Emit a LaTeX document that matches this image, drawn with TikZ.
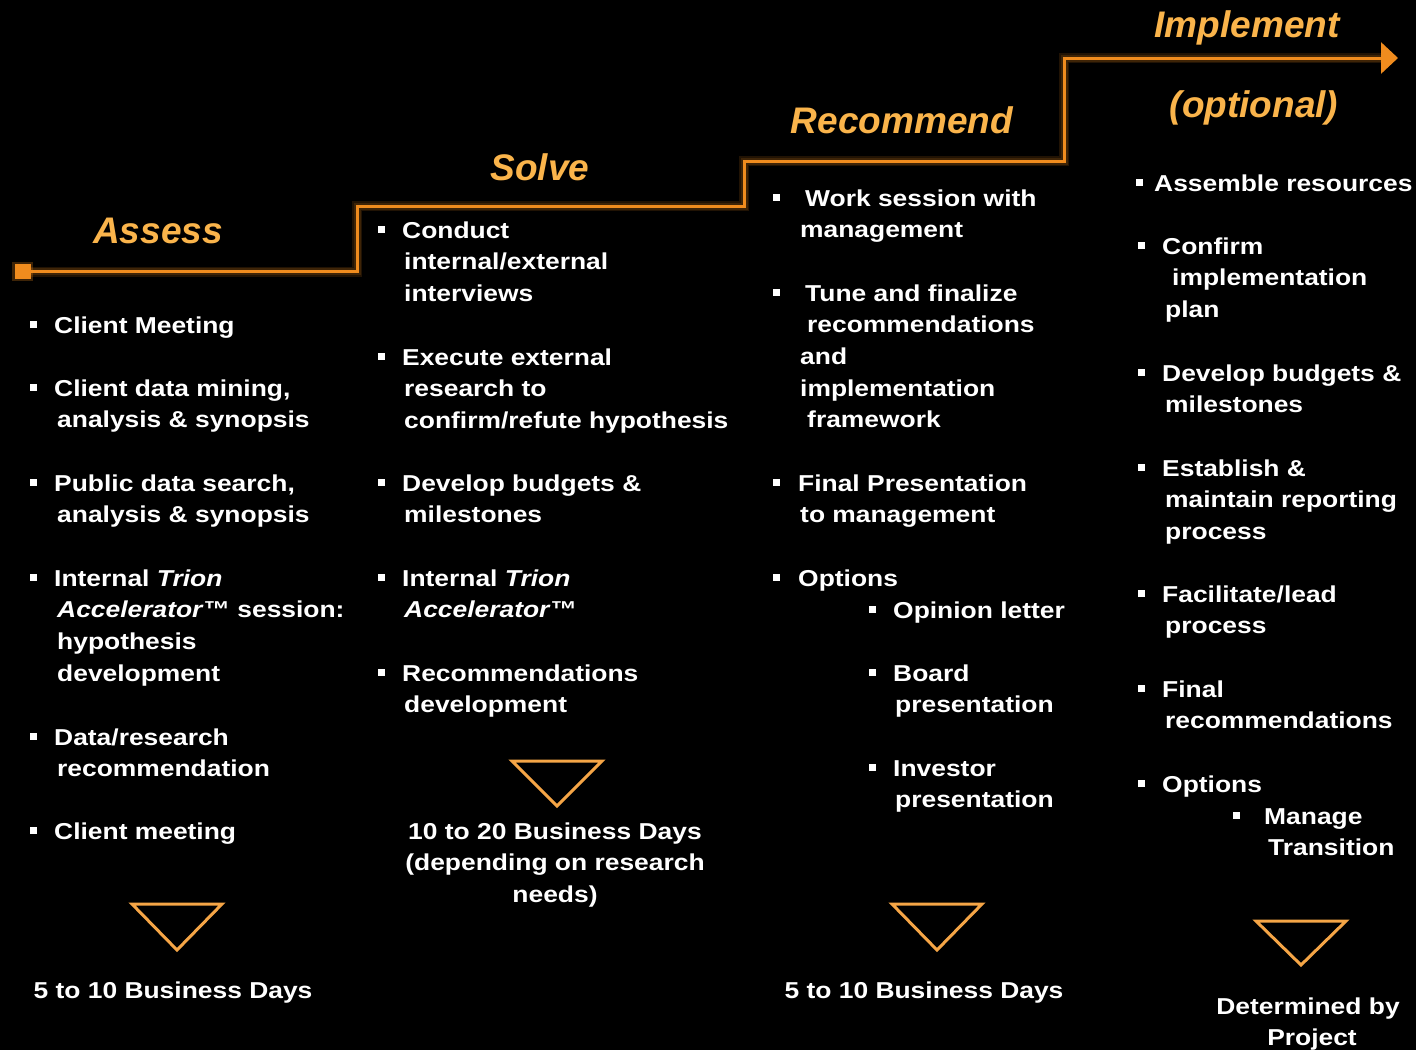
\documentclass[tikz,border=0pt]{standalone}
\usepackage{fontspec}
\setmainfont{Liberation Sans}[FakeStretch=1.148]
\newfontfamily\headfont{Liberation Sans}
\usetikzlibrary{arrows.meta}
\definecolor{stair}{RGB}{240,140,30}
\definecolor{headc}{RGB}{250,180,75}
\definecolor{tric}{RGB}{245,165,70}
\newcommand\bodyfont{\fontsize{23}{31.7}\selectfont\bfseries}
\newcommand\ind[1]{\hspace*{#1pt}}
\newcommand\itm[5]{%
  \fill[white] (#2-3.5,#4-4.5) rectangle (#2+3.5,#4+2.5);
  \node[txt] (#1) at (#3,#4+8) {\begin{tabular}[t]{@{}l@{}}#5\end{tabular}};}
\newcommand\tri[3]{%
  \draw[trist] (#1-45,#2) -- (#1+45,#2) -- (#1,#2+#3) -- cycle;}
\begin{document}
\begin{tikzpicture}[x=1pt,y=-1pt,
  txt/.style={text=white,font=\bodyfont,inner sep=0pt,anchor=base west},
  bot/.style={text=white,font=\bodyfont,inner sep=0pt,anchor=base},
  headtxt/.style={text=headc,font=\headfont\fontsize{37}{44}\selectfont\bfseries\itshape,inner sep=0pt,anchor=base},
  trist/.style={draw=tric,line width=3pt,line join=miter},
  stairline/.style={draw=stair,line width=3pt},
  glow/.style={draw=stair,line width=#1,opacity=0.14}]
\useasboundingbox (0,0) rectangle (1416,1050);
\fill[black] (0,0) rectangle (1416,1050);

% staircase
\node[fill=stair,minimum width=16pt,minimum height=15pt,inner sep=0pt,draw=none] (sq) at (22.5,271.5) {};
\coordinate (c1) at (357,206);
\coordinate (c2) at (744,161);
\coordinate (c3) at (1064,58);
\coordinate (tip) at (1398,58);
\foreach \w in {10pt,7pt}{
  \draw[glow=\w] (sq.center) -| (c1) -| (c2) -| (c3) -- ([xshift=-8pt]tip);
  \fill[stair,opacity=0.14] (sq.south west) ++(-2,2) rectangle ([shift={(2,-2)}]sq.north east);}
\draw[stairline,-{Triangle[length=17pt,width=31pt]}] (sq.center) -| (c1) -| (c2) -| (c3) -- (tip);

% headings
\node[headtxt] (hA) at (158,243) {Assess};
\node[headtxt] (hS) at (540,180) {Solve};
\node[headtxt] (hR) at (902,133) {Recommend};
\node[headtxt] (hI) at (1247,37) {Implement};
\node[headtxt] (hO) at (1254,117) {(optional)};

% column 1
\itm{a1}{33}{54}{325}{Client Meeting}
\itm{a2}{33}{54}{388}{Client data mining,\\ \ind{3}analysis \& synopsis}
\itm{a3}{33}{54}{483}{Public data search,\\ \ind{3}analysis \& synopsis}
\itm{a4}{33}{54}{578}{Internal \textit{Trion}\\ \ind{3}\textit{Accelerator}™ session:\\ \ind{3}hypothesis\\ \ind{3}development}
\itm{a5}{33}{54}{737}{Data/research\\ \ind{3}recommendation}
\itm{a6}{33}{54}{831}{Client meeting}
\tri{177}{904}{46}
\node[bot] (aB) at (173,998) {5 to 10 Business Days};

% column 2
\itm{s1}{381}{402}{230}{Conduct\\ \ind{2}internal/external\\ \ind{2}interviews}
\itm{s2}{381}{402}{357}{Execute external\\ \ind{2}research to\\ \ind{2}confirm/refute hypothesis}
\itm{s3}{381}{402}{483}{Develop budgets \&\\ \ind{2}milestones}
\itm{s4}{381}{402}{578}{Internal \textit{Trion}\\ \ind{2}\textit{Accelerator}™}
\itm{s5}{381}{402}{673}{Recommendations\\ \ind{2}development}
\tri{557}{761}{45}
\node[bot] (sB) at (555,839) {\begin{tabular}[t]{@{}c@{}}10 to 20 Business Days\\(depending on research\\needs)\end{tabular}};

% column 3
\itm{r1}{776}{800}{198}{\ind{5}Work session with\\ management}
\itm{r2}{776}{800}{293}{\ind{5}Tune and finalize\\ \ind{7}recommendations\\ and\\ implementation\\ \ind{7}framework}
\itm{r3}{776}{798}{483}{Final Presentation\\ \ind{2}to management}
\itm{r4}{776}{798}{578}{Options}
\itm{r5}{872}{893}{610}{Opinion letter}
\itm{r6}{872}{893}{673}{Board\\ \ind{2}presentation}
\itm{r7}{872}{893}{768}{Investor\\ \ind{2}presentation}
\tri{937}{904}{46}
\node[bot] (rB) at (924,998) {5 to 10 Business Days};

% column 4
\itm{i1}{1139}{1154}{183}{Assemble resources}
\itm{i2}{1141}{1162}{246}{Confirm\\ \ind{10}implementation\\ \ind{3}plan}
\itm{i3}{1141}{1162}{373}{Develop budgets \&\\ \ind{3}milestones}
\itm{i4}{1141}{1162}{468}{Establish \&\\ \ind{3}maintain reporting\\ \ind{3}process}
\itm{i5}{1141}{1162}{594}{Facilitate/lead\\ \ind{3}process}
\itm{i6}{1141}{1162}{689}{Final\\ \ind{3}recommendations}
\itm{i7}{1141}{1162}{784}{Options}
\itm{i8}{1236}{1264}{816}{Manage\\ \ind{4}Transition}
\tri{1301}{921}{44}
\node[bot] (iB) at (1308,1014) {\begin{tabular}[t]{@{}c@{}}Determined by\\ \ind{8}Project\end{tabular}};
\end{tikzpicture}
\end{document}
